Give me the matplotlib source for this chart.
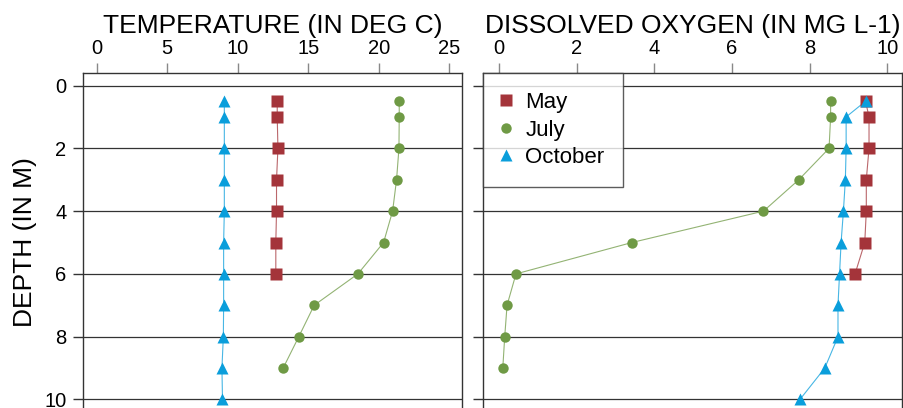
import matplotlib
matplotlib.use("Agg")
import matplotlib.pyplot as plt

plt.rcParams['font.family'] = ['Liberation Sans', 'DejaVu Sans']

# depth profiles (m)
depth_may = [0.5, 1, 2, 3, 4, 5, 6]
depth_july = [0.5, 1, 2, 3, 4, 5, 6, 7, 8, 9]
depth_oct = [0.5, 1, 2, 3, 4, 5, 6, 7, 8, 9, 10]

# temperature (deg C)
temp_may = [12.8, 12.8, 12.85, 12.75, 12.75, 12.7, 12.7]
temp_july = [21.45, 21.45, 21.43, 21.26, 20.98, 20.34, 18.52, 15.42, 14.33, 13.22]
temp_oct = [9.05, 9.05, 9.05, 9.05, 9.05, 9.0, 9.0, 9.0, 8.98, 8.88, 8.92]

# dissolved oxygen (mg L-1)
do_may = [9.44, 9.53, 9.53, 9.46, 9.46, 9.42, 9.17]
do_july = [8.54, 8.54, 8.50, 7.72, 6.81, 3.42, 0.43, 0.20, 0.14, 0.09]
do_oct = [9.44, 8.94, 8.94, 8.92, 8.87, 8.81, 8.77, 8.73, 8.73, 8.39, 7.75]

c_may = "#a4343a"
c_july = "#6f9a45"
c_oct = "#0a9edb"

W, H = 904, 408
fig = plt.figure(figsize=(W / 100, H / 100), dpi=100)

top = 73
bot = 412
ax1 = fig.add_axes([83 / W, (H - bot) / H, (462 - 83) / W, (bot - top) / H])
ax2 = fig.add_axes([483 / W, (H - bot) / H, (902 - 483) / W, (bot - top) / H])


def style(ax, xlim, xticks):
    ax.set_xlim(xlim)
    ax.set_ylim(10.4, -0.4)
    ax.set_xticks(xticks)
    ax.set_yticks([0, 2, 4, 6, 8, 10])
    ax.xaxis.tick_top()
    ax.tick_params(axis="x", length=7, width=1, color="#888888", pad=4, labelsize=14.5)
    ax.tick_params(axis="y", length=7, width=1, color="#333333", pad=5, labelsize=14.5)
    for s in ax.spines.values():
        s.set_color("#333333")
        s.set_linewidth(1)
    for d in [0, 2, 4, 6, 8, 10]:
        ax.axhline(d, color="#333333", lw=0.9, zorder=1)


def profiles(ax, may, july, octo):
    ax.plot(may, depth_may, "-", color=c_may, lw=0.8, alpha=0.75, zorder=2)
    ax.plot(july, depth_july, "-", color=c_july, lw=0.8, alpha=0.75, zorder=2)
    ax.plot(octo, depth_oct, "-", color=c_oct, lw=0.8, alpha=0.75, zorder=2)
    ax.plot(may, depth_may, "s", color=c_may, ms=8, mec="none", zorder=3, label="May")
    ax.plot(july, depth_july, "o", color=c_july, ms=7.5, mec="none", zorder=3, label="July")
    ax.plot(octo, depth_oct, "^", color=c_oct, ms=9, mec="none", zorder=3, label="October")


style(ax1, (-0.97, 25.9), [0, 5, 10, 15, 20, 25])
profiles(ax1, temp_may, temp_july, temp_oct)
ax1.set_ylabel("DEPTH (IN M)", fontsize=19, labelpad=5)

style(ax2, (-0.42, 10.38), [0, 2, 4, 6, 8, 10])
ax2.tick_params(axis="y", labelleft=False)
profiles(ax2, do_may, do_july, do_oct)

leg = ax2.legend(loc="upper left", fontsize=16, frameon=True, fancybox=False,
                 borderaxespad=0, handletextpad=0.65, handlelength=0.4,
                 labelspacing=0.3, borderpad=0.85)
leg.get_frame().set_edgecolor("#333333")
leg.get_frame().set_linewidth(1)

fig.text((83 + 462) / 2 / W, 1 - 33 / H, "TEMPERATURE (IN DEG C)", fontsize=19,
         ha="center", va="baseline")
fig.text((483 + 902) / 2 / W, 1 - 33 / H, "DISSOLVED OXYGEN (IN MG L-1)", fontsize=19,
         ha="center", va="baseline")

fig.savefig("out.png", dpi=100)
